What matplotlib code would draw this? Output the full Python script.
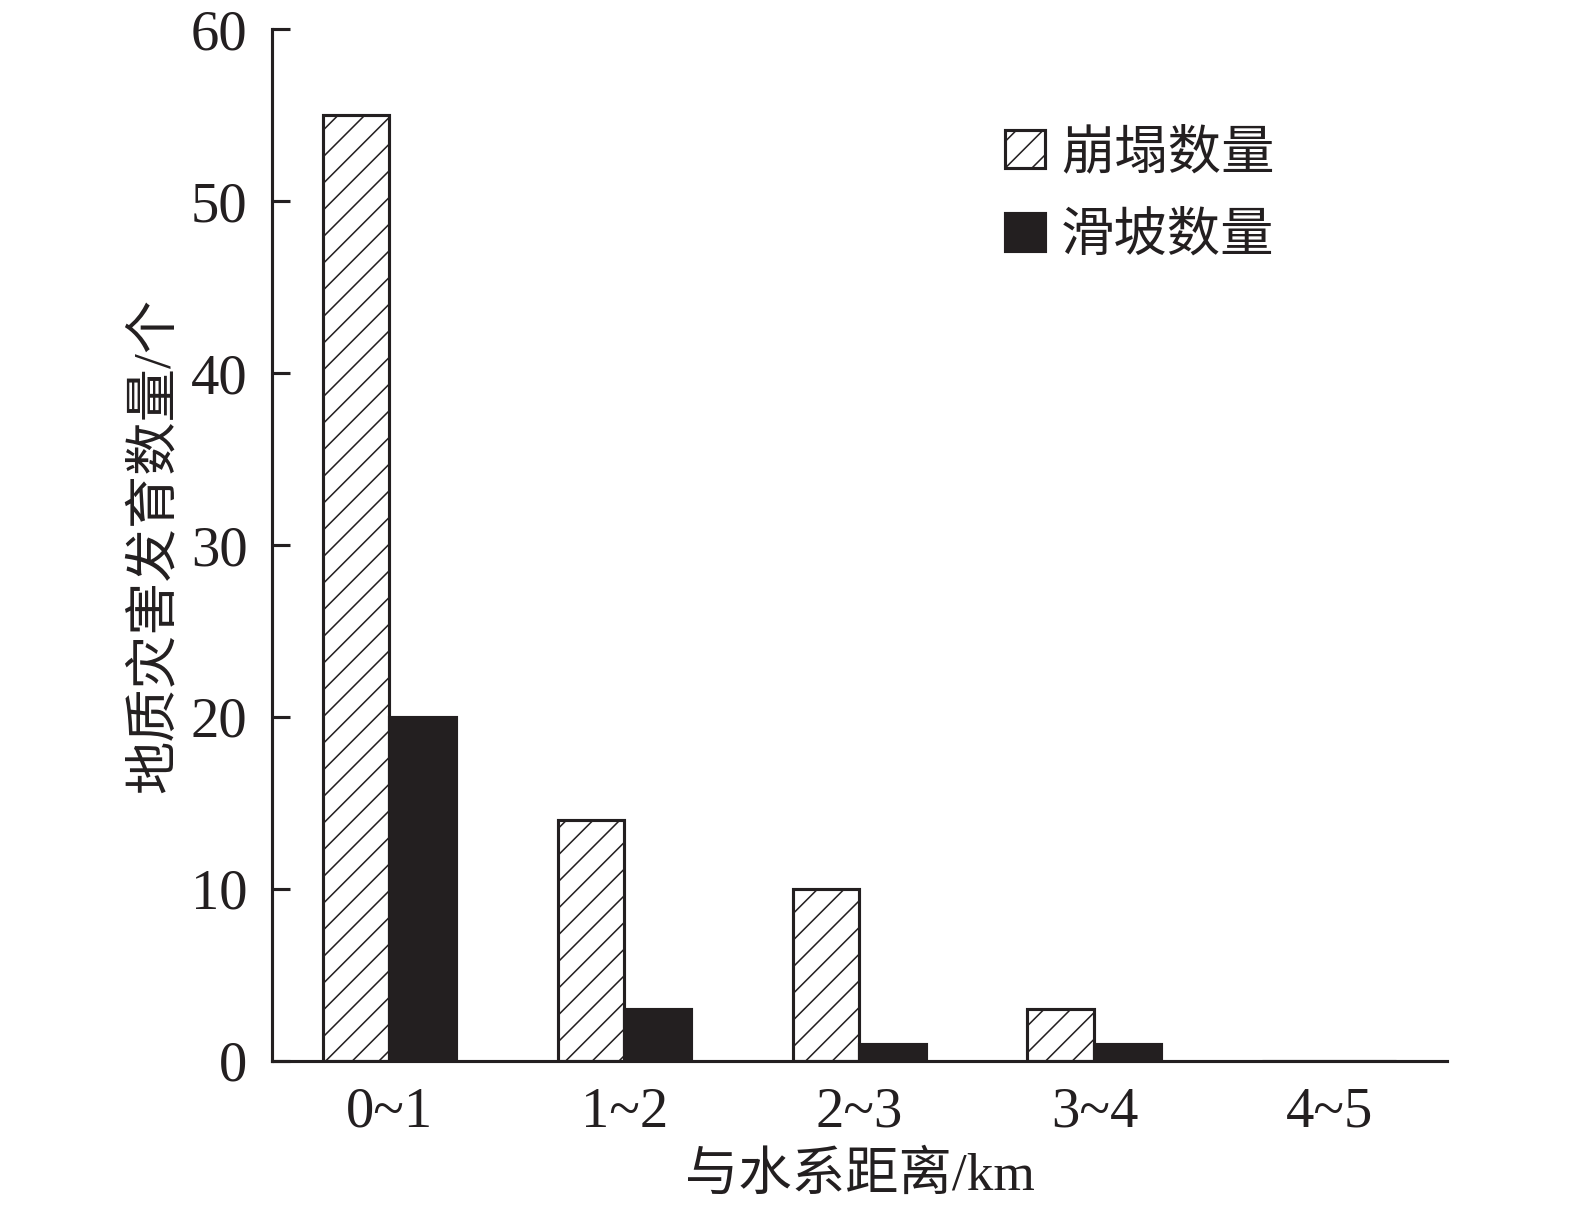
import numpy as np
import matplotlib
matplotlib.use('Agg')
from matplotlib import pyplot as plt

# data
categories = ['0~1', '1~2', '2~3', '3~4', '4~5']
collapse = [55, 14, 10, 3, 0]   # 崩塌数量
landslide = [20, 3, 1, 1, 0]    # 滑坡数量

plt.rcParams['font.family'] = ['Liberation Serif', 'Noto Sans CJK SC']
plt.rcParams['hatch.linewidth'] = 0.7
ink = '#231f20'

fig = plt.figure(figsize=(1575 / 160, 1211 / 160), dpi=160)
ax = fig.add_axes([0.1727, 0.1239, 0.746, 0.8521])

x = np.arange(len(categories))
w = 0.285
ax.bar(x - w / 2, collapse, w, facecolor='white', edgecolor=ink,
       hatch='//', linewidth=1.4, label='崩塌数量')
ax.bar(x + w / 2, landslide, w, color=ink, edgecolor=ink,
       linewidth=1.4, label='滑坡数量')

ax.set_xlim(-0.5, 4.5)
ax.set_ylim(0, 60)
ax.set_yticks(range(0, 61, 10))
ax.set_xticks(x)
ax.set_xticklabels(categories)

for s in ['top', 'right']:
    ax.spines[s].set_visible(False)
for s in ['left', 'bottom']:
    ax.spines[s].set_linewidth(1.4)
    ax.spines[s].set_color(ink)

ax.tick_params(axis='y', direction='in', length=8, width=1.4, color=ink,
               labelsize=25.5, pad=11, labelcolor=ink)
ax.tick_params(axis='x', length=0, labelsize=25.5, pad=11.5, labelcolor=ink)

ax.set_xlabel('与水系距离/km', fontsize=24, color=ink, labelpad=6)
ax.set_ylabel('地质灾害发育数量/个', fontsize=24, color=ink, labelpad=5)

ax.legend(loc='upper left', bbox_to_anchor=(0.624, 0.903), frameon=False,
          fontsize=24, handlelength=0.75, handleheight=0.72,
          handletextpad=0.3, labelspacing=0.62, borderpad=0, borderaxespad=0,
          labelcolor=ink)

fig.savefig('out.png', dpi=160)
